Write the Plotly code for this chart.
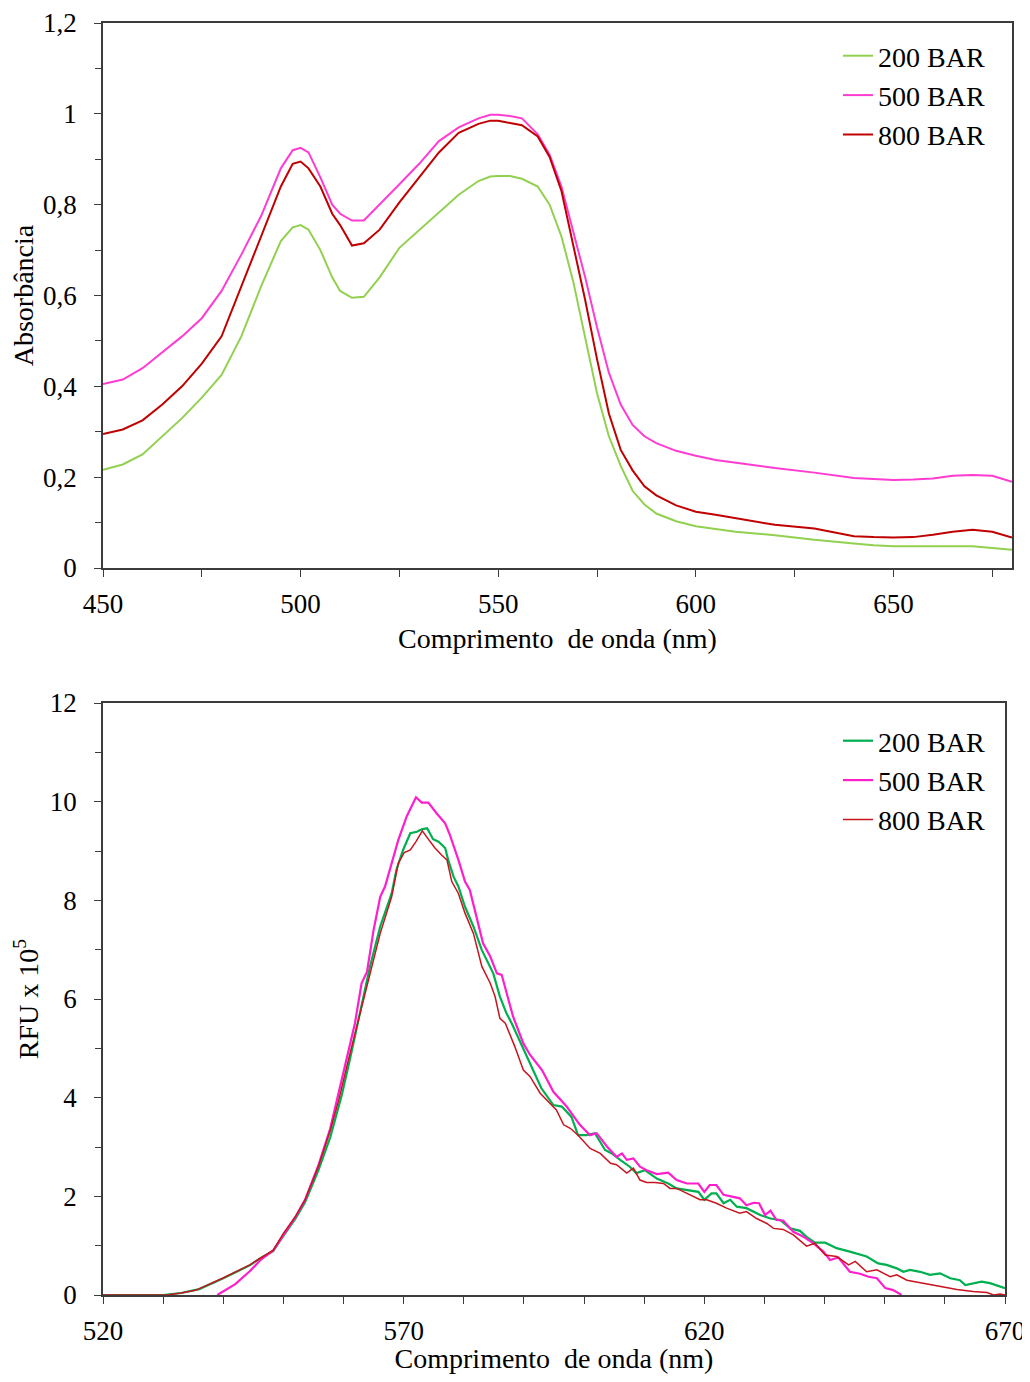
import plotly.graph_objects as go

# ---------------- Absorbance spectra (top) ----------------
wl_abs = [450, 455, 460, 465, 470, 475, 480, 485, 490, 495,
          498, 500, 502, 505, 508, 510, 513, 516, 520, 525,
          530, 535, 540, 545, 548, 550, 553, 556, 560, 563,
          566, 569, 572, 575, 578, 581, 584, 587, 590, 595,
          600, 605, 610, 620, 630, 640, 645, 650, 655, 660,
          665, 670, 675, 680]

abs_200 = [0.216, 0.228, 0.25, 0.29, 0.33, 0.375, 0.425, 0.51, 0.62, 0.72,
           0.75, 0.755, 0.745, 0.70, 0.64, 0.61, 0.595, 0.597, 0.64, 0.705,
           0.744, 0.785, 0.822, 0.852, 0.862, 0.863, 0.863, 0.857, 0.84, 0.80,
           0.73, 0.63, 0.51, 0.385, 0.29, 0.225, 0.17, 0.14, 0.12, 0.103,
           0.092, 0.086, 0.08, 0.072, 0.062, 0.054, 0.05, 0.048, 0.048, 0.048,
           0.048, 0.048, 0.044, 0.04]

abs_500 = [0.405, 0.415, 0.44, 0.475, 0.51, 0.55, 0.61, 0.69, 0.775, 0.88,
           0.92, 0.925, 0.915, 0.86, 0.80, 0.78, 0.765, 0.765, 0.80, 0.845,
           0.89, 0.94, 0.97, 0.99, 0.998, 0.998, 0.995, 0.99, 0.955, 0.91,
           0.84, 0.74, 0.64, 0.53, 0.43, 0.36, 0.315, 0.29, 0.275, 0.258,
           0.247, 0.238, 0.232, 0.22, 0.21, 0.198, 0.196, 0.194, 0.195, 0.197,
           0.203, 0.205, 0.203, 0.19]

abs_800 = [0.295, 0.305, 0.325, 0.36, 0.40, 0.45, 0.51, 0.62, 0.73, 0.84,
           0.89, 0.895, 0.88, 0.84, 0.78, 0.755, 0.71, 0.715, 0.745, 0.805,
           0.86, 0.915, 0.958, 0.978, 0.985, 0.985, 0.98, 0.975, 0.95, 0.905,
           0.83, 0.71, 0.59, 0.46, 0.34, 0.26, 0.215, 0.18, 0.16, 0.138,
           0.124, 0.117, 0.11, 0.095, 0.087, 0.07, 0.068, 0.067, 0.068, 0.073,
           0.08, 0.084, 0.08, 0.067]

# ---------------- Fluorescence spectra (bottom) ----------------
wl_fl_200 = [520, 525, 530, 533, 536, 540, 544.4, 546.1, 548.3, 550,
             552, 553.6, 555.8, 557.8, 559.7, 561.1, 562.7, 564.4, 566.1, 568,
             568.8, 569.9, 571.1, 572.2, 573, 573.9, 574.9, 575.8, 576.9, 577.4,
             578.3, 579.1, 580.2, 581.6, 583, 584.1, 584.9, 586, 587.1, 588,
             589.3, 591.3, 592.9, 594.9, 596.3, 597.9, 599, 600.4, 601.8, 603.5,
             604.6, 606, 607.6, 608.7, 610.1, 612.1, 614, 615.4, 617.3, 619,
             620, 621.2, 622, 623.2, 624.3, 625.4, 627, 629.3, 631, 632.6,
             634.3, 635.9, 637, 638.4, 640.1, 642, 644.2, 647, 648.9, 650.3,
             652, 653.1, 654.2, 655.9, 657.5, 659.2, 660.9, 662.5, 663.4, 664.7,
             666.1, 667.5, 670]
rfu_200 = [0, 0, 0, 0.04, 0.12, 0.34, 0.6, 0.74, 0.89, 1.2,
           1.55, 1.88, 2.52, 3.2, 4.05, 4.8, 5.71, 6.66, 7.47, 8.14,
           8.62, 9.02, 9.36, 9.39, 9.44, 9.46, 9.24, 9.19, 9.06, 8.82,
           8.48, 8.28, 7.87, 7.47, 6.99, 6.72, 6.52, 6.05, 5.71, 5.5,
           5.15, 4.63, 4.19, 3.85, 3.82, 3.61, 3.24, 3.24, 3.28, 2.94,
           2.87, 2.74, 2.6, 2.47, 2.53, 2.36, 2.26, 2.16, 2.13, 2.09,
           1.93, 2.06, 2.06, 1.86, 1.93, 1.79, 1.76, 1.62, 1.55, 1.52,
           1.35, 1.3, 1.18, 1.06, 1.06, 0.95, 0.88, 0.78, 0.64, 0.61,
           0.54, 0.47, 0.51, 0.47, 0.41, 0.44, 0.34, 0.3, 0.2, 0.24,
           0.27, 0.24, 0.14]

wl_fl_500 = [539, 542, 544.4, 546.1, 548.3, 550, 552, 553.6, 555.8, 557.8,
             558.9, 560.2, 561.9, 563, 563.9, 565, 566.1, 566.9, 568, 569.1,
             570.5, 572.05, 573, 574.1, 575.5, 576.9, 577.7, 579.1, 580.2, 581,
             582.1, 583.2, 584.4, 585.5, 586.3, 587.4, 588.2, 589.9, 591, 593,
             594.9, 597.1, 599.3, 601, 602.1, 603.8, 605.4, 606.3, 607.1, 608.2,
             609.3, 610.4, 612.1, 614, 615.4, 617.1, 619, 620, 620.9, 622,
             623.2, 624.8, 625.9, 627, 628.2, 629.1, 630.1, 631, 632, 633.1,
             634.8, 636.5, 638.1, 639.8, 640.9, 642.3, 644.2, 645.9, 647.3, 648.7,
             650.1, 651.4, 652.8]
rfu_500 = [0, 0.22, 0.48, 0.7, 0.9, 1.22, 1.58, 1.93, 2.62, 3.38,
           3.95, 4.63, 5.51, 6.32, 6.55, 7.4, 8.07, 8.28, 8.75, 9.22,
           9.7, 10.09, 9.98, 9.98, 9.76, 9.56, 9.32, 8.82, 8.38, 8.21,
           7.67, 7.13, 6.86, 6.52, 6.49, 5.98, 5.64, 5.1, 4.87, 4.56,
           4.12, 3.82, 3.45, 3.24, 3.28, 3.01, 2.8, 2.87, 2.74, 2.77,
           2.6, 2.53, 2.45, 2.48, 2.33, 2.26, 2.26, 2.09, 2.23, 2.23,
           2.03, 1.99, 1.96, 1.82, 1.87, 1.86, 1.62, 1.71, 1.52, 1.51,
           1.28, 1.18, 1.05, 0.88, 0.71, 0.76, 0.47, 0.43, 0.37, 0.34,
           0.14, 0.1, 0]

wl_fl_800 = [520, 525, 530.6, 533, 535.5, 539.9, 544.4, 546.1, 548.3, 550,
             552, 553.6, 555.8, 557.8, 559.2, 560.8, 562.5, 564.4, 566.1, 568,
             569.1, 570.1, 571.1, 572.05, 573.1, 574.1, 575.2, 576.3, 577.2, 578,
             579.1, 580.2, 581.6, 583, 584.4, 585.2, 586, 586.9, 588.5, 589.9,
             591, 592.7, 594.3, 595.4, 596.6, 597.7, 599, 601, 602.7, 604.4,
             605.4, 607.1, 608.2, 609.3, 610.4, 611.8, 613.2, 614.3, 615.4, 617.1,
             619.3, 620.4, 622, 623.7, 625.9, 627, 628.7, 630.4, 631.5, 633.1,
             634.8, 637, 638.4, 640.1, 642, 644, 645.1, 647, 648.7, 650.9,
             652, 653.7, 656.4, 659.2, 662, 664.7, 667, 668.1, 669.2, 670]
rfu_800 = [0, 0, 0, 0.04, 0.1, 0.34, 0.61, 0.74, 0.91, 1.25,
           1.59, 1.93, 2.6, 3.34, 3.95, 4.76, 5.57, 6.52, 7.33, 8.07,
           8.75, 8.97, 9.02, 9.19, 9.41, 9.24, 9.06, 8.92, 8.82, 8.38,
           8.14, 7.74, 7.33, 6.66, 6.32, 6.05, 5.61, 5.51, 5.03, 4.56,
           4.43, 4.09, 3.89, 3.75, 3.45, 3.38, 3.24, 2.97, 2.87, 2.67,
           2.64, 2.47, 2.57, 2.33, 2.28, 2.28, 2.26, 2.16, 2.16, 2.06,
           1.93, 1.93, 1.86, 1.76, 1.66, 1.69, 1.55, 1.45, 1.35, 1.33,
           1.22, 0.99, 1.05, 0.81, 0.78, 0.61, 0.68, 0.47, 0.51, 0.37,
           0.41, 0.3, 0.24, 0.17, 0.11, 0.07, 0.05, 0, 0.02, 0]

series_names = ["200 BAR", "500 BAR", "800 BAR"]

# page has an 8px body margin: figure drawn 8px in from the top-left
OFF = 8
W, H = 1030 - OFF, 1382 - 2 * OFF
FONT = "Liberation Serif, Times New Roman, serif"
AXC = "#3c3c3c"

fig = go.Figure()

top_colors = ["#92D050", "#FF3CD2", "#C00000"]
for name, ys, c in zip(series_names, [abs_200, abs_500, abs_800], top_colors):
    fig.add_trace(go.Scatter(x=wl_abs, y=ys, mode="lines", name=name,
                             line=dict(color=c, width=2),
                             xaxis="x", yaxis="y", legend="legend"))

bot_data = [(wl_fl_200, rfu_200, "#00B050", 2.2),
            (wl_fl_500, rfu_500, "#FF1ECC", 2.2),
            (wl_fl_800, rfu_800, "#C8141E", 1.5)]
for name, (xs, ys, c, w) in zip(series_names, bot_data):
    fig.add_trace(go.Scatter(x=xs, y=ys, mode="lines", name=name,
                             line=dict(color=c, width=w),
                             xaxis="x2", yaxis="y2", legend="legend2"))

def px_x(p):
    return (p - OFF) / W

def px_y(p):
    return 1 - (p - OFF) / H

axis_common = dict(showline=True, linecolor=AXC, linewidth=1.5, mirror=True,
                   showgrid=False, zeroline=False, ticks="outside", ticklen=7,
                   tickwidth=1.3, tickcolor=AXC, automargin=False,
                   ticklabeloverflow="allow",
                   tickfont=dict(family=FONT, size=27, color="black"))
title_font = dict(family=FONT, size=28)

fig.update_layout(
    width=W, height=H,
    margin=dict(l=0, r=0, t=0, b=0, autoexpand=False),
    paper_bgcolor="white", plot_bgcolor="white",
    separators=",.",
    font=dict(family=FONT, color="black"),
    xaxis=dict(domain=[px_x(103), px_x(1012)], anchor="y", range=[450, 680],
               tickmode="linear", tick0=450, dtick=50, ticklabelstandoff=4,
               minor=dict(ticks="outside", dtick=25, tick0=450, ticklen=7,
                          tickcolor=AXC, tickwidth=1.3),
               title=dict(text="Comprimento  de onda (nm)", standoff=10,
                          font=title_font),
               **axis_common),
    yaxis=dict(domain=[px_y(568), px_y(23)], anchor="x", range=[0, 1.2],
               tickmode="linear", tick0=0, dtick=0.2, ticklabelstandoff=12,
               minor=dict(ticks="outside", dtick=0.1, tick0=0, ticklen=6,
                          tickcolor=AXC, tickwidth=1.3),
               title=dict(text="Absorbância", standoff=3, font=title_font),
               **axis_common),
    xaxis2=dict(domain=[px_x(103), px_x(1005)], anchor="y2", range=[520, 670],
                tickmode="linear", tick0=520, dtick=50, ticklabelstandoff=4,
                minor=dict(ticks="outside", dtick=10, tick0=520, ticklen=7,
                           tickcolor=AXC, tickwidth=1.3),
                title=dict(text="Comprimento  de onda (nm)", standoff=10,
                           font=title_font),
                **axis_common),
    yaxis2=dict(domain=[px_y(1295), px_y(703)], anchor="x2", range=[0, 12],
                tickmode="linear", tick0=0, dtick=2, ticklabelstandoff=12,
                minor=dict(ticks="outside", dtick=1, tick0=0, ticklen=6,
                           tickcolor=AXC, tickwidth=1.3),
                title=dict(text="RFU x 10<sup>5</sup>", standoff=3,
                           font=title_font),
                **axis_common),
    legend=dict(x=px_x(838), y=px_y(31), xanchor="left", yanchor="top",
                bgcolor="rgba(0,0,0,0)", borderwidth=0, itemwidth=30,
                font=dict(family=FONT, size=28, color="black"), tracegroupgap=0),
    legend2=dict(x=px_x(838), y=px_y(716), xanchor="left", yanchor="top",
                 bgcolor="rgba(0,0,0,0)", borderwidth=0, itemwidth=30,
                 font=dict(family=FONT, size=28, color="black"), tracegroupgap=0),
    showlegend=True,
)

fig.write_html("out.html")
